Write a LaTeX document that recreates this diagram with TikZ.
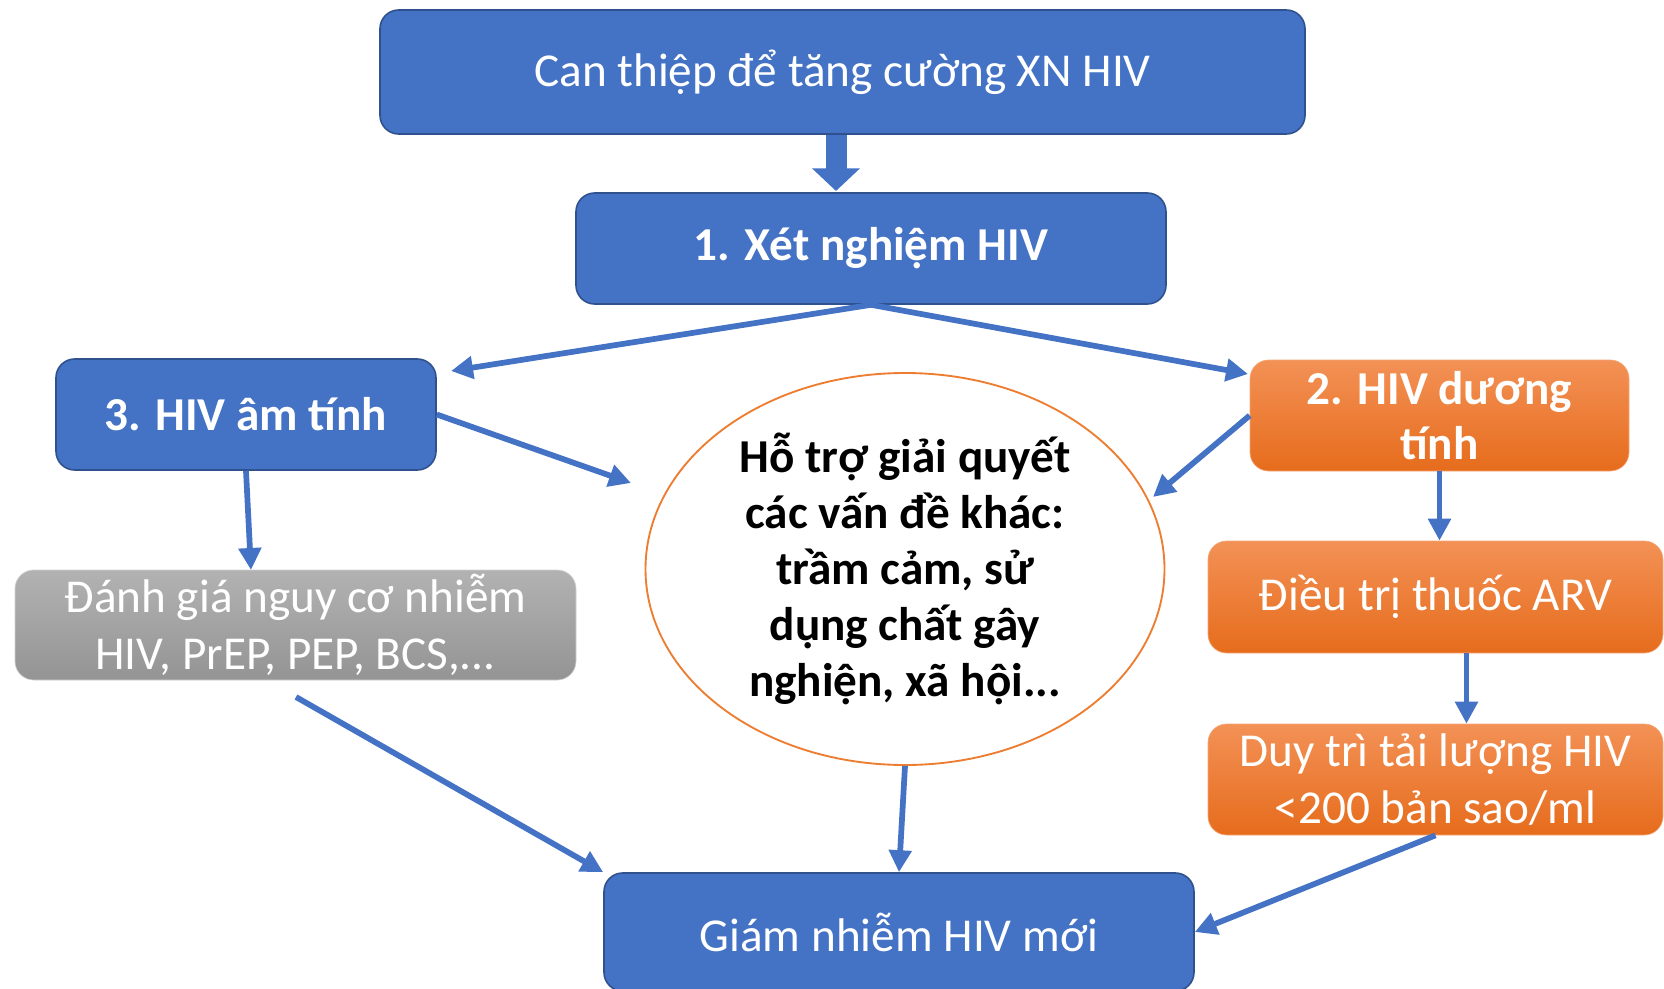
\documentclass[tikz,border=0pt]{standalone}
\usepackage{fontspec}
\setmainfont{Carlito}
\usetikzlibrary{arrows.meta,shapes.geometric}

\definecolor{boxblue}{RGB}{68,114,196}
\definecolor{lineblue}{RGB}{47,82,143}
\definecolor{orgtop}{RGB}{243,145,86}
\definecolor{orgbot}{RGB}{230,108,28}
\definecolor{orgline}{RGB}{237,125,49}
\definecolor{greytop}{RGB}{178,178,178}
\definecolor{greybot}{RGB}{148,148,148}

\tikzset{
  box/.style={rectangle, rounded corners=14pt, inner sep=0pt, align=center,
    text=white, font=\fontsize{35.4}{42.75}\selectfont},
  bluebox/.style={box, fill=boxblue, draw=lineblue, line width=1.2pt},
  orgbox/.style={box, top color=orgtop, bottom color=orgbot, draw=orgtop!80!white, line width=0.5pt},
  greybox/.style={box, top color=greytop, bottom color=greybot, draw=greytop!60!white, line width=0.5pt},
  conn/.style={draw=boxblue, line width=4.3pt, -{Triangle[length=16.5pt,width=16.5pt]}},
  bigconn/.style={draw=boxblue, line width=15.75pt, -{Triangle[length=17pt,width=35pt]}}
}

\begin{document}
\begin{tikzpicture}[x=0.75pt,y=0.75pt,yscale=-1,xscale=1]
\useasboundingbox (0,0) rectangle (1664,989);

% Blue boxes
\node [bluebox, minimum width=693.75pt, minimum height=93pt] (top) at (842.5,72) {Can thiệp để tăng cường XN HIV};
\node [bluebox, minimum width=442.5pt, minimum height=83.25pt, font=\fontsize{35.4}{42.75}\selectfont\bfseries] (xn) at (871,248.5) {1. Xét nghiệm HIV};
\node [bluebox, minimum width=285pt, minimum height=83.25pt, font=\fontsize{35.4}{42.75}\selectfont\bfseries] (neg) at (246,414.5) {3. HIV âm tính};
\node [bluebox, minimum width=442.5pt, minimum height=88.5pt] (giam) at (899,932) {Giám nhiễm HIV mới};

% Grey box
\node [greybox, minimum width=420.75pt, minimum height=82.5pt] (risk) at (295.5,625) {Đánh giá nguy cơ nhiễm\\HIV, PrEP, PEP, BCS,...};

% Ellipse
\node [ellipse, draw=orgline, line width=1.4pt, fill=white, inner sep=0pt, align=center,
  minimum width=389.25pt, minimum height=294pt, font=\fontsize{35.4}{42}\selectfont\bfseries] (help) at (905,569)
  {Hỗ trợ giải quyết\\các vấn đề khác:\\trầm cảm, sử\\dụng chất gây\\nghiện, xã hội...};

% Orange boxes
\node [orgbox, minimum width=284.25pt, minimum height=83.25pt, font=\fontsize{35.4}{41.5}\selectfont\bfseries] (pos) at (1439.5,415.5) {2. HIV dương\\tính};
\node [orgbox, minimum width=341.25pt, minimum height=84pt] (arv) at (1435.5,597) {Điều trị thuốc ARV};
\node [orgbox, minimum width=341.25pt, minimum height=83.25pt] (duy) at (1435.5,779.5) {Duy trì tải lượng HIV\\<200 bản sao/ml};

% free ends
\coordinate (negin) at (451,371);
\coordinate (posin) at (1248,374);
\coordinate (helpl) at (631,483);
\coordinate (helpr) at (1153,497);
\coordinate (riskin) at (251,570);
\coordinate (riskout) at (296,697);

%Straight Lines
\draw [bigconn] (top.south -| 836,0) -- (836,191);
\draw [conn] (xn.south) -- (negin);
\draw [conn] (xn.south) -- (posin);
\draw [conn] (neg.east) -- (helpl);
\draw [conn] (neg.south) -- (riskin);
\draw [conn] (pos.west) -- (helpr);
\draw [conn] (pos.south) -- (pos.south |- arv.north);
\draw [conn] ([xshift=23.25pt]arv.south) -- ([xshift=23.25pt]arv.south |- duy.north);
\draw [conn] (riskout) -- (giam.north west);
\draw [conn] (help.south) -- (giam.north);
\draw [conn] (duy.south) -- (giam.east);

\end{tikzpicture}
\end{document}
